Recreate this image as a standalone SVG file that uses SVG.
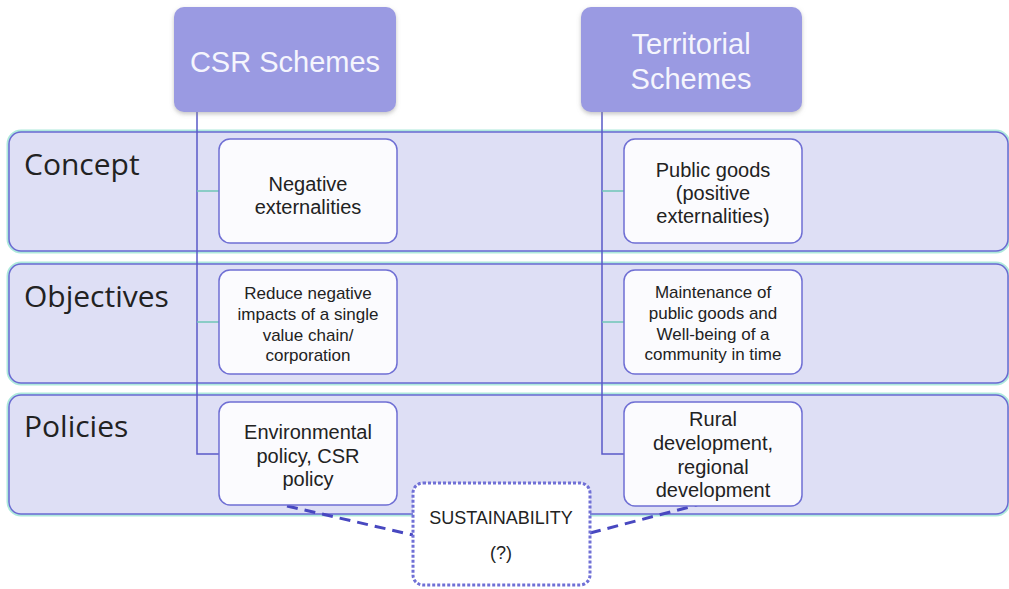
<svg xmlns="http://www.w3.org/2000/svg" width="1009" height="589" viewBox="0 0 1009 589">
<style>
text{font-family:"Liberation Sans","Open Sans",sans-serif;text-anchor:middle;fill:#222}
.hdr{fill:#9a9ae2}
.hdrt{fill:#f5f5fd;font-size:29px}
.glow{fill:none;stroke:#aee9dc;stroke-width:5}
.band{fill:#dedff5;stroke:#6a6ad2;stroke-width:1.5}
.lbl{font-family:"Open Sans","Liberation Sans",sans-serif;font-size:30px;text-anchor:start}
.box{fill:#fbfbfe;stroke:#6f6fd4;stroke-width:1.5}
.t20{font-size:20px}
.t17{font-size:17px}
.t18{font-size:18px}
.vline{fill:none;stroke:#5a5ac8;stroke-width:1.5}
.teal{fill:none;stroke:#6fc6b6;stroke-width:1.5}
.dash{fill:none;stroke:#4848c0;stroke-width:3;stroke-dasharray:11 7}
</style>
<defs>
<filter id="sh" x="-10%" y="-10%" width="120%" height="130%">
<feDropShadow dx="0" dy="2" stdDeviation="2" flood-color="#888" flood-opacity="0.5"/>
</filter>
</defs>
<g id="band-concept">
<rect class="glow" x="9" y="132" width="999" height="119" rx="12"/>
<rect class="band" x="9" y="132" width="999" height="119" rx="12"/>
<text class="lbl" x="24" y="175">Concept</text>
</g>
<g id="band-objectives">
<rect class="glow" x="9" y="264" width="999" height="119" rx="12"/>
<rect class="band" x="9" y="264" width="999" height="119" rx="12"/>
<text class="lbl" x="24" y="307">Objectives</text>
</g>
<g id="band-policies">
<rect class="glow" x="9" y="395" width="999" height="119" rx="12"/>
<rect class="band" x="9" y="395" width="999" height="119" rx="12"/>
<text class="lbl" x="24" y="437">Policies</text>
</g>
<g id="connectors">
<path class="vline" d="M197 112 V454 H219"/>
<path class="vline" d="M602 112 V454 H624"/>
<path class="teal" d="M197 191 H219 M197 322 H219 M602 191 H624 M602 322 H624"/>
<path class="dash" d="M287 506 L413 535"/>
<path class="dash" d="M590 533 L697 505"/>
</g>
<g id="csr-schemes">
<rect class="hdr" x="174" y="7" width="222" height="105" rx="10" filter="url(#sh)"/>
<text class="hdrt" x="285" y="72">CSR Schemes</text>
</g>
<g id="territorial-schemes">
<rect class="hdr" x="581" y="7" width="221" height="105" rx="10" filter="url(#sh)"/>
<text class="hdrt" x="691" y="54">Territorial</text>
<text class="hdrt" x="691" y="89">Schemes</text>
</g>
<g id="negative-externalities">
<rect class="box" x="219" y="139" width="178" height="104" rx="11"/>
<text class="t20" x="308" y="191">Negative</text>
<text class="t20" x="308" y="214">externalities</text>
</g>
<g id="reduce-negative">
<rect class="box" x="219" y="270" width="178" height="104" rx="11"/>
<text class="t17" x="308" y="299">Reduce negative</text>
<text class="t17" x="308" y="320">impacts of a single</text>
<text class="t17" x="308" y="341">value chain/</text>
<text class="t17" x="308" y="361">corporation</text>
</g>
<g id="environmental-policy">
<rect class="box" x="219" y="402" width="178" height="103" rx="11"/>
<text class="t20" x="308" y="439">Environmental</text>
<text class="t20" x="308" y="463">policy, CSR</text>
<text class="t20" x="308" y="486">policy</text>
</g>
<g id="public-goods">
<rect class="box" x="624" y="139" width="178" height="104" rx="11"/>
<text class="t20" x="713" y="177">Public goods</text>
<text class="t20" x="713" y="200">(positive</text>
<text class="t20" x="713" y="223">externalities)</text>
</g>
<g id="maintenance">
<rect class="box" x="624" y="270" width="178" height="104" rx="11"/>
<text class="t17" x="713" y="298">Maintenance of</text>
<text class="t17" x="713" y="319">public goods and</text>
<text class="t17" x="713" y="340">Well-being of a</text>
<text class="t17" x="713" y="360">community in time</text>
</g>
<g id="rural-development">
<rect class="box" x="624" y="402" width="178" height="104" rx="11"/>
<text class="t20" x="713" y="426">Rural</text>
<text class="t20" x="713" y="450">development,</text>
<text class="t20" x="713" y="474">regional</text>
<text class="t20" x="713" y="497">development</text>
</g>
<g id="sustainability">
<rect x="413" y="483" width="177" height="102" rx="10" fill="#ffffff" stroke="#7070d6" stroke-width="3" stroke-dasharray="3 2"/>
<text class="t18" x="501" y="524">SUSTAINABILITY</text>
<text class="t18" x="501" y="559">(?)</text>
</g>
</svg>
